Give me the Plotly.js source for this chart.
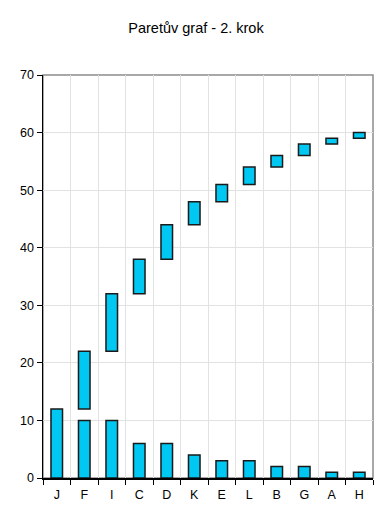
<!DOCTYPE html>
<html>
<head>
<meta charset="utf-8">
<script src="https://cdn.plot.ly/plotly-3.0.1.min.js"></script>
<style>html,body{margin:0;padding:0;background:#fff;}#chart{width:392px;height:525px;}</style>
</head>
<body>
<div id="chart"></div>
<script>
const categories = ['J','F','I','C','D','K','E','L','B','G','A','H'];
const counts = [12,10,10,6,6,4,3,3,2,2,1,1];
const cumBase = [null,12,22,32,38,44,48,51,54,56,58,59];
const cumHeight = [null,10,10,6,6,4,3,3,2,2,1,1];
const yTicks = [0,10,20,30,40,50,60,70];

const barStyle = {color:'#00c8f2', line:{color:'#1a1a1a', width:1.5}};
const data = [
  {type:'bar', x:categories, y:counts, marker:barStyle, width:0.42, hoverinfo:'skip'},
  {type:'bar', x:categories, y:cumHeight, base:cumBase, marker:barStyle, width:0.42, hoverinfo:'skip'}
];
const layout = {
  width:392, height:525,
  margin:{l:43, r:19, t:75, b:47},
  paper_bgcolor:'#fff', plot_bgcolor:'#fff',
  barmode:'overlay', showlegend:false,
  title:{text:'Paretův graf - 2. krok', x:0.5, xanchor:'center', y:0.947, yanchor:'middle',
         font:{family:'Liberation Sans, Arial', size:14.5, color:'#000'}},
  font:{family:'Liberation Sans, Arial', size:12, color:'#000'},
  xaxis:{type:'category', tickson:'boundaries', ticks:'outside', ticklen:5, tickcolor:'#000',
         ticklabelstandoff:4,
         showline:true, linecolor:'#000', linewidth:1.5, showgrid:true, gridcolor:'#e2e2e2',
         gridwidth:1, tickfont:{size:12.5}, fixedrange:true},
  yaxis:{range:[0,70], tickvals:yTicks, ticks:'outside', ticklen:5, tickcolor:'#000',
         showline:true, linecolor:'#000', linewidth:1.5, showgrid:true, gridcolor:'#e2e2e2',
         gridwidth:1, zeroline:false, tickfont:{size:12.5}, fixedrange:true},
  shapes:[{type:'rect', xref:'paper', yref:'paper', x0:0, x1:1, y0:0, y1:1,
           line:{color:'#8c8c8c', width:1.5}, layer:'below'}]
};
Plotly.newPlot('chart', data, layout, {staticPlot:true, displayModeBar:false});
</script>
</body>
</html>
